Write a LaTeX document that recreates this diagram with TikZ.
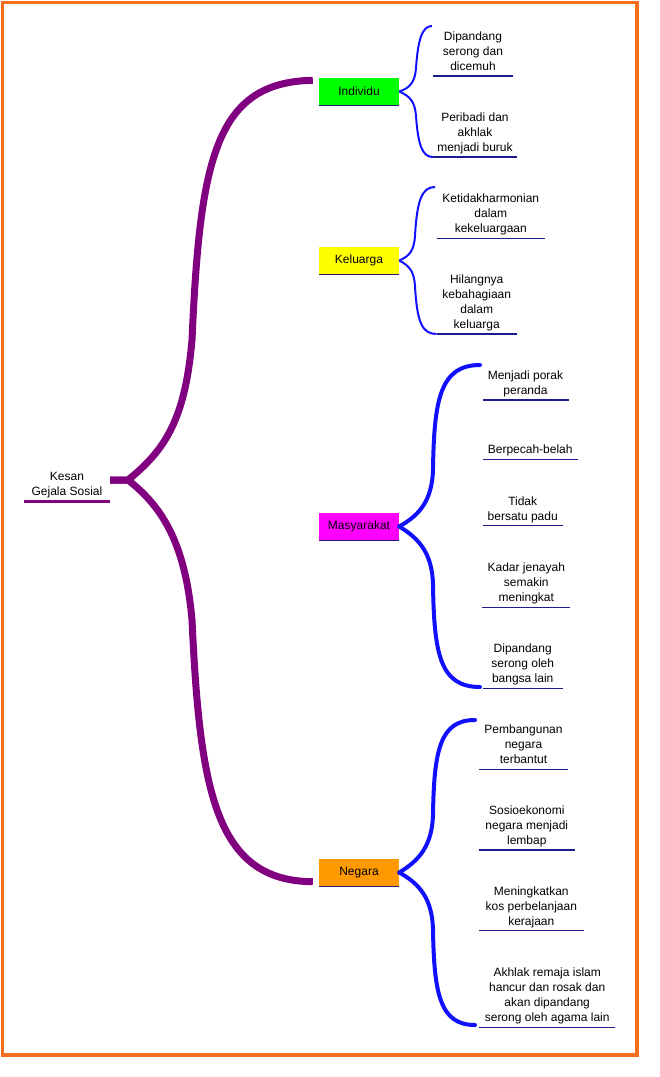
\documentclass[tikz,border=0pt]{standalone}
\usepackage{fontspec}
\setmainfont{Liberation Sans}
\definecolor{frameor}{RGB}{245,110,30}
\definecolor{mmpurple}{RGB}{128,0,128}
\definecolor{mmblue}{RGB}{16,16,255}
\definecolor{navyline}{RGB}{28,28,140}
\definecolor{boxline}{RGB}{40,26,106}
\definecolor{cgreen}{RGB}{0,255,0}
\definecolor{cyellow}{RGB}{255,255,0}
\definecolor{cmagenta}{RGB}{255,0,255}
\definecolor{corange}{RGB}{255,153,0}
\begin{document}
\begin{tikzpicture}[x=1pt,y=-1pt,
  every node/.style={font=\fontsize{12}{15}\selectfont, align=center, text=black},
  leaf/.style={anchor=south, inner xsep=0pt, inner ysep=1pt, execute at end node=\strut},
  mainbox/.style={minimum width=80pt, minimum height=28pt, inner sep=0pt},
  uline/.style={draw=navyline, line width=1.2pt},
  bline/.style={draw=boxline, line width=1.2pt},
  purplebr/.style={draw=mmpurple, line width=7pt},
  thinbr/.style={draw=mmblue, line width=2pt},
  thickbr/.style={draw=mmblue, line width=4pt, line cap=round}]
\fill[white] (0,0) rectangle (660,1077);
\useasboundingbox (0,0) rectangle (660,1077);
\draw[frameor, line width=3.5pt] (2.5,2.5) rectangle (637,1055);

% root
\node[leaf, minimum width=86pt] (root) at (67,501) {Kesan\\Gejala Sosial};
\draw[mmpurple, line width=3pt] (root.south west) -- (root.south east);

% main topics
\node[mainbox, fill=cgreen] (ind) at (359,91.5) {Individu};
\node[mainbox, fill=cyellow] (kel) at (359,260.5) {Keluarga};
\node[mainbox, fill=cmagenta] (mas) at (359,526.5) {Masyarakat};
\node[mainbox, fill=corange] (neg) at (359,872.5) {Negara};
\foreach \n in {ind,kel,mas,neg}
  \draw[bline] (\n.south west) -- (\n.south east);

% purple connectors
\coordinate (hub) at (128,480);
\draw[purplebr] (root.east |- hub) -- (hub)
  .. controls (165,450) and (185,420) .. (192,340)
  .. controls (200,160) and (215,82) .. ([xshift=-6pt,yshift=-3pt]ind.north west);
\draw[purplebr] (root.east |- hub) -- (hub)
  .. controls (160,505) and (185,540) .. (192,620)
  .. controls (200,790) and (215,881) .. ([xshift=-6pt,yshift=5pt]neg.south west);

% Individu children
\node[leaf, minimum width=80pt] (i1) at (473,76) {Dipandang\\serong dan\\dicemuh};
\node[leaf, minimum width=84pt] (i2) at (475,157) {Peribadi dan\\akhlak\\menjadi buruk};
% Keluarga children
\node[leaf, minimum width=108pt] (k1) at (490.8,238.3) {Ketidakharmonian\\dalam\\kekeluargaan};
\node[leaf, minimum width=80pt] (k2) at (476.7,334) {Hilangnya\\kebahagiaan\\dalam\\keluarga};
% Masyarakat children
\node[leaf, minimum width=85.6pt] (m1) at (525.5,400) {Menjadi porak\\peranda};
\node[leaf, minimum width=95pt] (m2) at (530.2,459.3) {Berpecah-belah};
\node[leaf, minimum width=80pt] (m3) at (522.7,525.7) {Tidak\\bersatu padu};
\node[leaf, minimum width=87.3pt] (m4) at (526.3,607.3) {Kadar jenayah\\semakin\\meningkat};
\node[leaf, minimum width=80pt] (m5) at (522.7,688.3) {Dipandang\\serong oleh\\bangsa lain};
% Negara children
\node[leaf, minimum width=88.4pt] (n1) at (523.5,769.3) {Pembangunan\\negara\\terbantut};
\node[leaf, minimum width=95pt] (n2) at (526.8,850) {Sosioekonomi\\negara menjadi\\lembap};
\node[leaf, minimum width=104pt] (n3) at (531.3,930.7) {Meningkatkan\\kos perbelanjaan\\kerajaan};
\node[leaf, minimum width=135.7pt] (n4) at (547.2,1027.3) {Akhlak remaja islam\\hancur dan rosak dan\\akan dipandang\\serong oleh agama lain};
\foreach \n in {i1,i2,k1,k2,m1,m2,m3,m4,m5,n1,n2,n3,n4}
  \draw[uline] (\n.south west) -- (\n.south east);

% brace ends
\coordinate (itop) at (432,26);
\coordinate (ibot) at (i2.south west);
\coordinate (ktop) at (435,187);
\coordinate (kbot) at (k2.south west);
\coordinate (mtop) at (480,365);
\coordinate (mbot) at (480,687);
\coordinate (ntop) at (475,720);
\coordinate (nbot) at (475,1025);

% blue braces
\draw[thinbr] (ind.east) .. controls (410,88) and (415,82) .. (416,68)
  .. controls (418,40) and (422,26) .. (itop);
\draw[thinbr] (ind.east) .. controls (410,96) and (415,102) .. (416,116)
  .. controls (418,144) and (422,157) .. (ibot);
\draw[thinbr] (kel.east) .. controls (410,256) and (414,250) .. (415,236)
  .. controls (417,200) and (422,187) .. (ktop);
\draw[thinbr] (kel.east) .. controls (410,266) and (414,272) .. (415,286)
  .. controls (417,322) and (422,334) .. (kbot);
\draw[thickbr] (mas.east) .. controls (420,515) and (432,500) .. (433,470)
  .. controls (434,400) and (440,365) .. (mtop);
\draw[thickbr] (mas.east) .. controls (420,539) and (432,554) .. (433,584)
  .. controls (434,654) and (440,687) .. (mbot);
\draw[thickbr] (neg.east) .. controls (420,860) and (432,845) .. (433,815)
  .. controls (434,750) and (440,720) .. (ntop);
\draw[thickbr] (neg.east) .. controls (420,884) and (432,899) .. (433,929)
  .. controls (434,994) and (440,1025) .. (nbot);
\end{tikzpicture}
\end{document}
